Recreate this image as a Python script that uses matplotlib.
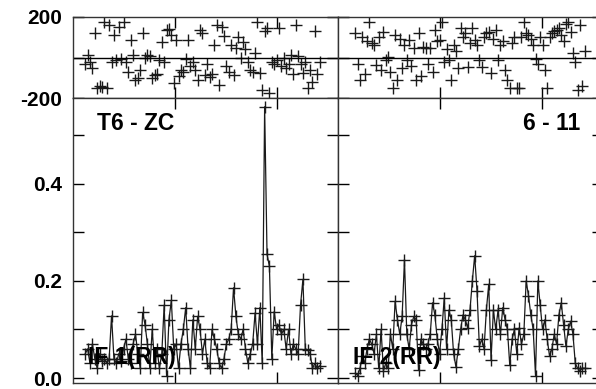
import numpy as np
import matplotlib
matplotlib.use("Agg")
import matplotlib.pyplot as plt

plt.rcParams['font.family'] = ['Liberation Sans', 'DejaVu Sans']
plt.rcParams['font.weight'] = 'bold'

# amplitude, IF 1(RR), T6 - ZC
amp_left = [
    0.05, 0.06, 0.03, 0.07, 0.04, 0.02, 0.05, 0.035, 0.04, 0.03,
    0.04, 0.128, 0.04, 0.03, 0.05, 0.035,
    0.06, 0.08, 0.04, 0.03, 0.07, 0.09, 0.05, 0.02, 0.135,
    0.11, 0.07, 0.02, 0.10, 0.03, 0.06, 0.02, 0.05,
    0.15, 0.005, 0.12, 0.16, 0.06, 0.07, 0.02,
    0.07, 0.10, 0.145, 0.06, 0.02, 0.12, 0.06,
    0.127, 0.10, 0.05, 0.08, 0.03, 0.02, 0.10, 0.08,
    0.06, 0.03, 0.02, 0.04, 0.07, 0.08, 0.10, 0.186, 0.127,
    0.09, 0.08, 0.10, 0.06, 0.03, 0.05, 0.07, 0.134, 0.07, 0.145, 0.03,
    0.559, 0.255, 0.23, 0.04,
    0.137, 0.10, 0.11, 0.09, 0.10, 0.06, 0.10, 0.05, 0.07, 0.06, 0.05,
    0.15, 0.203, 0.06, 0.058, 0.05, 0.02, 0.03, 0.02, 0.025,
]
phase_left = [
    -30, 12, -22, -52, 121, -151, -141, -145, 175, -150,
    160, -22, 111, -12, 151, -5, 175, -20, -72, 86,
    12, -111, -100, -62, 121, -2, 12, 5, -101, -85,
    -80, -10, 76, -22, 136, 140, 110, -126, 86, -90,
    -60, -70, -5, 86, -40, -20, -60, -111, 136, 120,
    -86, -30, -95, -80, 60, 160, -136, 150, 106, -40,
    -70, 62, -85, 47, 100, -2, 75, 40, -20, -60,
    -72, 20, 175, -78, -160, 130, 146, -175, -20, -30,
    -10, 146, -40, 0, -50, -30, 10, -80, 160, 5,
    -30, -75, -20, -150, -60, -120, 130, -80, -20,
]

# amplitude, IF 2(RR), 6 - 11
amp_right = [
    0.01, 0.005, 0.02, 0.045, 0.03, 0.06, 0.08, 0.07, 0.05, 0.09,
    0.02, 0.10, 0.015, 0.03, 0.02, 0.09, 0.06, 0.158, 0.12, 0.09,
    0.127, 0.244, 0.09, 0.06, 0.11, 0.127, 0.12, 0.016, 0.08, 0.07,
    0.06, 0.07, 0.09, 0.155, 0.13, 0.08, 0.05, 0.10, 0.165, 0.06,
    0.14, 0.12, 0.05, 0.023, 0.06, 0.10, 0.13, 0.12, 0.103, 0.14,
    0.20, 0.252, 0.18, 0.065, 0.08, 0.06, 0.14, 0.193, 0.037, 0.14,
    0.10, 0.14, 0.09, 0.145, 0.12, 0.10, 0.026, 0.08, 0.10, 0.05,
    0.103, 0.07, 0.09, 0.20, 0.17, 0.13, 0.10, 0.005, 0.20, 0.15,
    0.10, 0.12, 0.08, 0.045, 0.06, 0.09, 0.07, 0.13, 0.155, 0.11,
    0.065, 0.10, 0.117, 0.09, 0.03, 0.02, 0.015, 0.02, 0.02,
]
phase_right = [
    121, -32, -111, 100, -80, 80, 175, 70, 60, -37,
    100, -60, 126, -12, 2, -72, -150, 110, -111, 90,
    -50, 60, -10, 86, -40, 45, -111, 120, -90, 53,
    45, -30, 45, -70, 136, 80, 86, 175, -20, 43,
    -10, -111, 60, 33, -50, 146, 100, 120, -47, 70,
    146, 85, 60, -10, -47, 100, 120, 126, -75, 90,
    136, -10, 60, 80, -60, -111, -151, 70, 100, -150,
    -151, 100, 175, 121, 110, 90, 60, -5, -30, 101,
    62, -60, -151, 101, 121, 130, 136, 146, 110, 80,
    165, 175, 126, 20, -20, -160, 160, -140, 30,
]

amp_ticks = [0.0, 0.2, 0.4]
amp_labels = ['0.0', '0.2', '0.4']
amp_minor = [0.1, 0.3, 0.5]
phase_ticks = [-200, 0, 200]
phase_labels = ['-200', '', '200']

panels = [
    ("T6 - ZC", "IF 1(RR)", amp_left, phase_left, 0.12, 2.42),
    ("6 - 11", "IF 2(RR)", amp_right, phase_right, 0.17, 2.42),
]

fig = plt.figure(figsize=(5.96, 3.89), dpi=100)
lefts = [73 / 596, 338 / 596]
w = 265 / 596
col = '#1a1a1a'

for k, (title, label, amp, ph, x0, x1) in enumerate(panels):
    x = np.linspace(x0, x1, len(amp))

    axp = fig.add_axes([lefts[k], 1 - 98 / 389, w, 81 / 389])
    axp.plot(x, ph, ls='none', marker='+', ms=9, mew=1.0, color=col)
    axp.axhline(0, color='black', lw=1.0)
    axp.set_xlim(0, 2.6)
    axp.set_ylim(-200, 200)
    axp.set_yticks(phase_ticks)
    axp.set_xticks([1, 2])

    axa = fig.add_axes([lefts[k], 6 / 389, w, 285 / 389])
    axa.plot(x, amp, '-', lw=0.9, marker='+', ms=9, mew=1.0, color=col)
    axa.set_xlim(0, 2.6)
    axa.set_ylim(-0.0103, 0.577)
    axa.set_xticks([1, 2])
    axa.set_yticks(amp_ticks)
    axa.set_yticks(amp_minor, minor=True)
    axa.text(0.09 if k == 0 else 0.913, 0.912, title, transform=axa.transAxes,
             ha='left' if k == 0 else 'right', va='center', fontsize=16.5, fontweight='bold')
    axa.text(0.057, 0.09, label, transform=axa.transAxes, ha='left', va='center',
             fontsize=16.5, fontweight='bold')

    for ax in (axp, axa):
        ax.tick_params(which='both', direction='in', length=8, width=1,
                       top=True, right=True, labelbottom=False, pad=8,
                       labelsize=15)
        for s in ax.spines.values():
            s.set_linewidth(1.0)
            s.set_color('#333333')
        if k == 1:
            ax.tick_params(labelleft=False)

    if k == 0:
        axp.set_yticklabels(phase_labels, fontweight='bold')
        axa.set_yticklabels(amp_labels, fontweight='bold')

fig.savefig("out.png", dpi=100)
